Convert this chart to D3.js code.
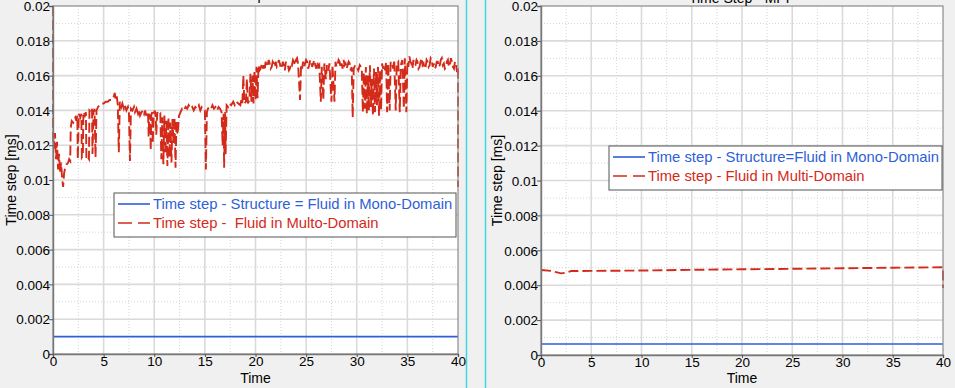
<!DOCTYPE html>
<html>
<head>
<meta charset="utf-8">
<script src="https://cdn.jsdelivr.net/npm/d3@7"></script>
<style>
  body { margin: 0; background: #f0f0f0; font-family: "Liberation Sans", Arial, sans-serif; }
  svg { display: block; }
</style>
</head>
<body>
<script>
// data (time, time step in ms)
const xTicks = [0, 5, 10, 15, 20, 25, 30, 35, 40];
const yTicks = [0, 0.002, 0.004, 0.006, 0.008, 0.01, 0.012, 0.014, 0.016, 0.018, 0.02];

const leftMono = [[0, 0.001], [40, 0.001]];
const leftMulto = [
  [0, 0.0200], [0, 0.0125], [0.1, 0.0118], [0.2, 0.0127], [0.3, 0.0112], [0.4, 0.0122], [0.5, 0.0106],
  [0.6, 0.0115], [0.7, 0.0104], [0.8, 0.0110], [0.9, 0.0101], [1.0, 0.0096], [1.1, 0.0104], [1.2, 0.0107],
  [1.35, 0.0109], [1.5, 0.0110], [1.6, 0.0112], [1.7, 0.0111], [1.75, 0.0130], [1.85, 0.0134], [2.0, 0.0133],
  [2.1, 0.0135], [2.2, 0.0136], [2.3, 0.0134], [2.4, 0.0137], [2.45, 0.0112], [2.55, 0.0138], [2.7, 0.0136],
  [2.8, 0.0138], [2.85, 0.0113], [2.95, 0.0114], [3.0, 0.0139], [3.15, 0.0137], [3.25, 0.0139], [3.3, 0.0112],
  [3.45, 0.0113], [3.55, 0.0112], [3.6, 0.0140], [3.75, 0.0139], [3.85, 0.0141], [3.9, 0.0115], [4.0, 0.0139],
  [4.1, 0.0141], [4.2, 0.0113], [4.3, 0.0140], [4.45, 0.0142], [4.6, 0.0143], [4.8, 0.0144], [5.0, 0.0144],
  [5.2, 0.0145], [5.4, 0.0145], [5.6, 0.0146], [5.8, 0.0146], [6.0, 0.0148], [6.1, 0.0150], [6.2, 0.0146],
  [6.3, 0.0148], [6.4, 0.0143], [6.5, 0.0116], [6.6, 0.0145], [6.75, 0.0142], [6.85, 0.0144], [7.0, 0.0141],
  [7.1, 0.0143], [7.25, 0.0140], [7.4, 0.0142], [7.5, 0.0139], [7.6, 0.0111], [7.7, 0.0141], [7.85, 0.0140],
  [8.0, 0.0142], [8.1, 0.0139], [8.25, 0.0141], [8.4, 0.0138], [8.5, 0.0140], [8.6, 0.0137], [8.75, 0.0139],
  [8.9, 0.0140], [9.0, 0.0138], [9.1, 0.0140], [9.2, 0.0137], [9.3, 0.0139], [9.4, 0.0136], [9.45, 0.0125],
  [9.5, 0.0138], [9.6, 0.0136], [9.65, 0.0117], [9.7, 0.0137], [9.8, 0.0139], [9.85, 0.0121], [9.95, 0.0138],
  [10.05, 0.0140], [10.15, 0.0136], [10.2, 0.0126], [10.3, 0.0139], [10.45, 0.0137], [10.6, 0.0138],
  [10.7, 0.0112], [10.8, 0.0136], [10.9, 0.0109], [11.0, 0.0137], [11.1, 0.0115], [11.2, 0.0134],
  [11.3, 0.0108], [11.4, 0.0136], [11.5, 0.0113], [11.6, 0.0133], [11.7, 0.0110], [11.8, 0.0135],
  [11.9, 0.0121], [12.0, 0.0136], [12.1, 0.0107], [12.2, 0.0134], [12.3, 0.0126], [12.45, 0.0137],
  [12.6, 0.0139], [12.75, 0.0141], [12.9, 0.0140], [13.1, 0.0142], [13.25, 0.0141], [13.4, 0.0143],
  [13.6, 0.0141], [13.75, 0.0142], [13.9, 0.0140], [14.05, 0.0142], [14.2, 0.0141], [14.4, 0.0143],
  [14.55, 0.0140], [14.7, 0.0142], [14.85, 0.0141], [15.0, 0.0140], [15.1, 0.0106], [15.2, 0.0139],
  [15.3, 0.0141], [15.45, 0.0142], [15.6, 0.0141], [15.75, 0.0143], [15.9, 0.0141], [16.05, 0.0142],
  [16.2, 0.0140], [16.35, 0.0142], [16.5, 0.0141], [16.65, 0.0139], [16.75, 0.0120], [16.85, 0.0138],
  [16.9, 0.0107], [17.0, 0.0139], [17.05, 0.0115], [17.15, 0.0143], [17.3, 0.0142], [17.45, 0.0144],
  [17.6, 0.0143], [17.8, 0.0145], [17.95, 0.0143], [18.1, 0.0145], [18.3, 0.0144], [18.5, 0.0143],
  [18.6, 0.0146], [18.7, 0.0144], [18.8, 0.0160], [18.9, 0.0144], [19.05, 0.0145], [19.15, 0.0158],
  [19.25, 0.0144], [19.4, 0.0146], [19.5, 0.0161], [19.6, 0.0145], [19.7, 0.0160], [19.8, 0.0144],
  [19.9, 0.0163], [20.0, 0.0146], [20.1, 0.0165], [20.2, 0.0147], [20.3, 0.0166], [20.4, 0.0163],
  [20.5, 0.0164], [20.65, 0.0167], [20.75, 0.0164], [20.8, 0.0166], [20.9, 0.0163], [21.0, 0.0168],
  [21.1, 0.0165], [21.2, 0.0166], [21.3, 0.0169], [21.4, 0.0167], [21.5, 0.0164], [21.6, 0.0165],
  [21.7, 0.0168], [21.8, 0.0167], [21.9, 0.0165], [22.0, 0.0168], [22.1, 0.0165], [22.2, 0.0166],
  [22.3, 0.0169], [22.4, 0.0167], [22.5, 0.0164], [22.6, 0.0165], [22.7, 0.0168], [22.8, 0.0166],
  [22.9, 0.0163], [23.0, 0.0168], [23.1, 0.0166], [23.2, 0.0166], [23.3, 0.0163], [23.4, 0.0164],
  [23.5, 0.0167], [23.6, 0.0166], [23.7, 0.0169], [23.8, 0.0168], [23.9, 0.0166], [24.0, 0.0169],
  [24.1, 0.0170], [24.2, 0.0167], [24.4, 0.0146], [24.5, 0.0166], [24.6, 0.0164], [24.7, 0.0168],
  [24.8, 0.0165], [24.9, 0.0167], [25.0, 0.0169], [25.1, 0.0168], [25.2, 0.0164], [25.3, 0.0166],
  [25.4, 0.0169], [25.5, 0.0168], [25.6, 0.0165], [25.7, 0.0167], [25.8, 0.0169], [25.9, 0.0166],
  [26.0, 0.0164], [26.1, 0.0168], [26.2, 0.0165], [26.3, 0.0166],
  [26.45, 0.0145], [26.55, 0.0165], [26.7, 0.0146], [26.8, 0.0167], [26.95, 0.0158], [27.05, 0.0166],
  [27.2, 0.0163], [27.3, 0.0167], [27.5, 0.0145], [27.6, 0.0166], [27.8, 0.0145], [27.9, 0.0168],
  [28.0, 0.0165], [28.1, 0.0166], [28.2, 0.0169], [28.3, 0.0168], [28.4, 0.0165], [28.5, 0.0167],
  [28.6, 0.0164], [28.7, 0.0169], [28.8, 0.0166], [28.9, 0.0167], [29.0, 0.0164], [29.1, 0.0166],
  [29.2, 0.0168], [29.3, 0.0167], [29.4, 0.0163], [29.5, 0.0165], [29.6, 0.0136], [29.7, 0.0164],
  [29.85, 0.0166], [30.0, 0.0165], [30.15, 0.0163], [30.3, 0.0166], [30.5, 0.0164], [30.6, 0.0139],
  [30.7, 0.0162], [30.8, 0.0141], [30.9, 0.0165], [31.0, 0.0138], [31.1, 0.0160], [31.2, 0.0140],
  [31.3, 0.0166], [31.4, 0.0142], [31.5, 0.0158], [31.6, 0.0137], [31.7, 0.0164], [31.8, 0.0139],
  [31.9, 0.0162], [32.0, 0.0143], [32.1, 0.0165], [32.2, 0.0137], [32.3, 0.0163], [32.4, 0.0140],
  [32.5, 0.0167], [32.6, 0.0164], [32.7, 0.0166], [32.8, 0.0163], [32.9, 0.0168], [33.0, 0.0139],
  [33.1, 0.0167], [33.25, 0.0140], [33.35, 0.0168], [33.5, 0.0167], [33.6, 0.0164], [33.7, 0.0169],
  [33.85, 0.0140], [33.95, 0.0167], [34.1, 0.0168], [34.25, 0.0139], [34.35, 0.0166], [34.5, 0.0169],
  [34.65, 0.0141], [34.75, 0.0170], [34.9, 0.0139], [35.0, 0.0168], [35.1, 0.0165], [35.2, 0.0171],
  [35.3, 0.0168], [35.4, 0.0167], [35.5, 0.0164], [35.6, 0.0169], [35.7, 0.0166], [35.8, 0.0166],
  [35.9, 0.0169], [36.0, 0.0168], [36.1, 0.0164], [36.2, 0.0165], [36.3, 0.0168], [36.4, 0.0170],
  [36.5, 0.0166], [36.6, 0.0167], [36.7, 0.0164], [36.8, 0.0165], [36.9, 0.0169], [37.0, 0.0168],
  [37.1, 0.0165], [37.2, 0.0166], [37.3, 0.0170], [37.4, 0.0169], [37.5, 0.0165], [37.6, 0.0167],
  [37.7, 0.0164], [37.8, 0.0165], [37.9, 0.0168], [38.0, 0.0168], [38.1, 0.0165], [38.2, 0.0166],
  [38.3, 0.0169], [38.4, 0.0170], [38.5, 0.0166], [38.6, 0.0167], [38.7, 0.0164], [38.8, 0.0165],
  [38.9, 0.0168], [39.0, 0.0169], [39.1, 0.0165], [39.2, 0.0166], [39.3, 0.0170], [39.4, 0.0168],
  [39.5, 0.0165], [39.6, 0.0164], [39.7, 0.0168], [39.8, 0.0167], [39.9, 0.0162], [40.0, 0.0165],
  [40.0, 0.0096]
];

const rightMono = [[0, 0.00063], [40, 0.00063]];
const rightMulti = [
  [0, 0.00487], [1, 0.00482], [1.5, 0.00475], [2, 0.00468], [2.5, 0.00472], [3, 0.00481], [5, 0.00482],
  [10, 0.00484], [15, 0.00488], [20, 0.00491], [25, 0.00494], [30, 0.00497], [35, 0.00500],
  [40, 0.00503], [40, 0.00384]
];

const blue = "#2f5fd6", red = "#d42a1a";

const svg = d3.select("body").append("svg")
    .attr("width", 955)
    .attr("height", 388);

// cyan separators between the two windows
[466.5, 485.5].forEach(x => {
  svg.append("line").attr("x1", x).attr("x2", x).attr("y1", 0).attr("y2", 388)
      .attr("stroke", "#3ed6e0").attr("stroke-width", 1.5);
});

function drawPanel(p) {
  const x = d3.scaleLinear().domain([0, 40]).range([p.left, p.right]);
  const y = d3.scaleLinear().domain([0, 0.02]).range([p.bottom, p.top]);
  const g = svg.append("g");

  // plot background
  g.append("rect").attr("x", p.left).attr("y", p.top)
      .attr("width", p.right - p.left).attr("height", p.bottom - p.top)
      .attr("fill", "#fff");

  // minor dotted grid
  const minorX = xTicks.slice(0, -1).map(t => t + 2.5);
  const minorY = yTicks.slice(0, -1).map(t => t + 0.001);
  g.selectAll(".mx").data(minorX).enter().append("line")
      .attr("x1", d => x(d)).attr("x2", d => x(d)).attr("y1", p.top).attr("y2", p.bottom)
      .attr("stroke", "#d4d4d4").attr("stroke-dasharray", "1,2");
  g.selectAll(".my").data(minorY).enter().append("line")
      .attr("x1", p.left).attr("x2", p.right).attr("y1", d => y(d)).attr("y2", d => y(d))
      .attr("stroke", "#d4d4d4").attr("stroke-dasharray", "1,2");

  // major grid
  g.selectAll(".gx").data(xTicks.slice(1, -1)).enter().append("line")
      .attr("x1", d => x(d)).attr("x2", d => x(d)).attr("y1", p.top).attr("y2", p.bottom)
      .attr("stroke", "#dadada").attr("stroke-width", 1.6);
  g.selectAll(".gy").data(yTicks.slice(1, -1)).enter().append("line")
      .attr("x1", p.left).attr("x2", p.right).attr("y1", d => y(d)).attr("y2", d => y(d))
      .attr("stroke", "#dadada").attr("stroke-width", 1.6);

  // series
  const line = d3.line().x(d => x(d[0])).y(d => y(d[1]));
  g.append("path").datum(p.mono).attr("d", line)
      .attr("fill", "none").attr("stroke", blue).attr("stroke-width", 1.6);
  g.append("path").datum(p.multi).attr("d", line)
      .attr("fill", "none").attr("stroke", red).attr("stroke-width", 1.9)
      .attr("stroke-dasharray", "10,4");

  // frame
  g.append("rect").attr("x", p.left).attr("y", p.top)
      .attr("width", p.right - p.left).attr("height", p.bottom - p.top)
      .attr("fill", "none").attr("stroke", "#8a8a8a").attr("stroke-width", 1.2);

  // axes
  const yAxis = g.append("g")
      .attr("transform", `translate(${p.left},0)`)
      .call(d3.axisLeft(y).tickValues(yTicks).tickSize(4).tickFormat(d => d3.format("~g")(+d.toFixed(4))));
  const xAxis = g.append("g")
      .attr("transform", `translate(0,${p.bottom})`)
      .call(d3.axisBottom(x).tickValues(xTicks).tickSize(3));
  [xAxis, yAxis].forEach(a => {
    a.select(".domain").attr("stroke", "#777").attr("stroke-width", 1.4);
    a.selectAll(".tick line").attr("stroke", "#555");
    a.selectAll("text").attr("fill", "#000")
        .style("font-family", "'Liberation Sans', Arial, sans-serif").style("font-size", "13.5px");
  });
  yAxis.selectAll("text").attr("x", -3).attr("dy", "0.35em");
  xAxis.selectAll("text").attr("y", 2);

  // axis titles
  g.append("text")
      .attr("transform", `translate(${p.ylabelX},${(p.top + p.bottom) / 2}) rotate(-90)`)
      .attr("text-anchor", "middle")
      .style("font-size", "14px")
      .text("Time step [ms]");
  g.append("text")
      .attr("x", (p.left + p.right) / 2).attr("y", 383)
      .attr("text-anchor", "middle")
      .style("font-size", "14px")
      .text("Time");

  // chart title, mostly cut by the top edge as in the source screenshot
  g.append("text")
      .attr("x", (p.left + p.right) / 2).attr("y", p.titleY)
      .attr("text-anchor", "middle")
      .style("font-size", "14px")
      .text(p.title);

  // legend
  const lg = g.append("g");
  lg.append("rect").attr("x", p.legend.x).attr("y", p.legend.y)
      .attr("width", p.legend.w).attr("height", p.legend.h)
      .attr("fill", "#fff").attr("stroke", "#555").attr("stroke-width", 1);
  const rows = [
    {label: p.monoLabel, color: blue, dash: null},
    {label: p.multiLabel, color: red, dash: "14,6"}
  ];
  rows.forEach((r, i) => {
    const cy = p.legend.y + 11 + i * 19;
    lg.append("line")
        .attr("x1", p.legend.x + 4).attr("x2", p.legend.x + 36)
        .attr("y1", cy).attr("y2", cy)
        .attr("stroke", r.color).attr("stroke-width", 1.6)
        .attr("stroke-dasharray", r.dash);
    lg.append("text")
        .attr("x", p.legend.x + 39).attr("y", cy + 5)
        .attr("fill", r.color)
        .style("font-size", "14.8px")
        .style("white-space", "pre")
        .attr("xml:space", "preserve")
        .text(r.label);
  });
}

drawPanel({
  left: 53, right: 458, top: 6, bottom: 354, ylabelX: 16,
  mono: leftMono, multi: leftMulto,
  title: "Time step - SPH", titleY: -0.5,
  monoLabel: "Time step - Structure = Fluid in Mono-Domain",
  multiLabel: "Time step -  Fluid in Multo-Domain",
  legend: {x: 114, y: 193, w: 342, h: 44}
});

drawPanel({
  left: 541, right: 943, top: 6, bottom: 355, ylabelX: 502,
  mono: rightMono, multi: rightMulti,
  title: "Time Step - MPP", titleY: 3,
  monoLabel: "Time step - Structure=Fluid in Mono-Domain",
  multiLabel: "Time step - Fluid in Multi-Domain",
  legend: {x: 609, y: 146, w: 333, h: 44}
});
</script>
</body>
</html>
